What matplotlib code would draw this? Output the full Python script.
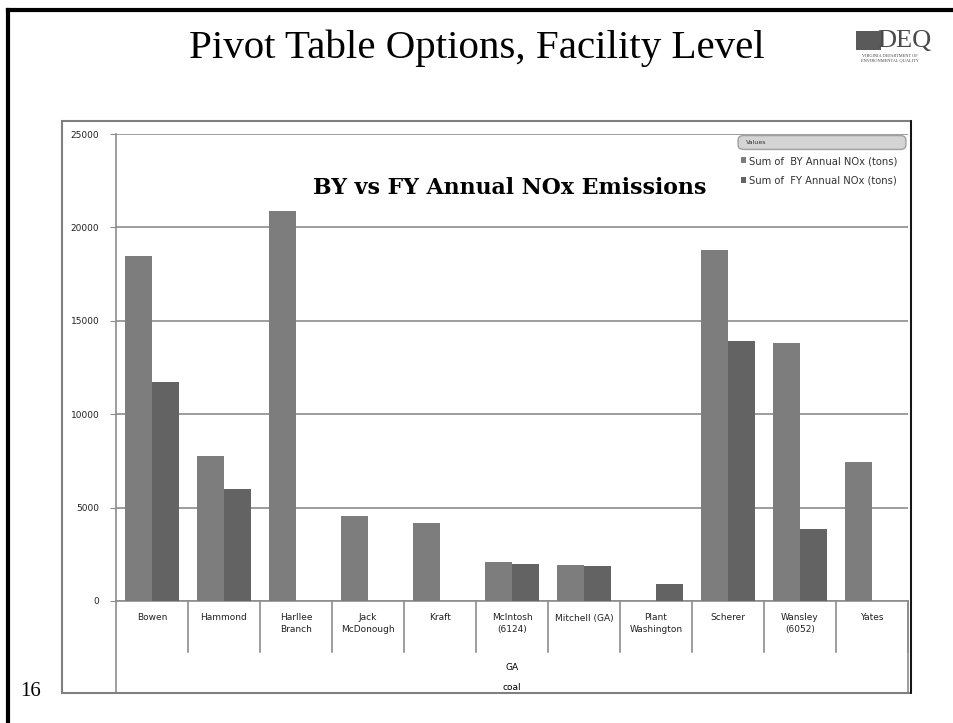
import numpy as np
import matplotlib
matplotlib.use('Agg')
import matplotlib.pyplot as plt
from matplotlib.lines import Line2D
from matplotlib.patches import Rectangle, FancyBboxPatch
import matplotlib.transforms as mtrans

# data
plants = ['Bowen', 'Hammond', 'Harllee\nBranch', 'Jack\nMcDonough', 'Kraft',
          'McIntosh\n(6124)', 'Mitchell (GA)', 'Plant\nWashington', 'Scherer',
          'Wansley\n(6052)', 'Yates']
by_nox = [18450, 7750, 20900, 4550, 4200, 2100, 1950, 0, 18800, 13800, 7450]
fy_nox = [11750, 6000, 0, 0, 0, 1980, 1880, 900, 13900, 3850, 0]
state = 'GA'
fuel = 'coal'

W, H = 954, 723

def fx(px):
    return px / W

def fy(py):
    return 1 - py / H

fig = plt.figure(figsize=(W / 100, H / 100), dpi=100)

# slide frame (left and top edges)
fig.add_artist(Line2D([fx(8.5), fx(8.5)], [fy(10), 0], color='black', lw=3))
fig.add_artist(Line2D([fx(8.5), 1], [fy(10), fy(10)], color='black', lw=3))

fig.text(fx(477), fy(48), 'Pivot Table Options, Facility Level',
         family='Liberation Serif', fontsize=29.5, ha='center', va='center')
fig.text(fx(20), fy(692), '16', family='Liberation Serif', fontsize=15,
         ha='left', va='center')

# logo stand-in
fig.add_artist(Rectangle((fx(856), fy(50)), fx(25), fy(31) - fy(50),
                         facecolor='#5a5a5a', edgecolor='none'))
fig.text(fx(904), fy(41), 'DEQ', family='Liberation Serif', fontsize=19,
         color='#4a4a4a', ha='center', va='center')
fig.text(fx(890), fy(58), 'VIRGINIA DEPARTMENT OF\nENVIRONMENTAL QUALITY',
         family='Liberation Serif', fontsize=3.2, color='#444444',
         ha='center', va='center', linespacing=1.0)

# chart box
fig.add_artist(Rectangle((fx(62), fy(693)), fx(911) - fx(62), fy(121) - fy(693),
                         facecolor='none', edgecolor='#7f7f7f', lw=1.5))
fig.add_artist(Line2D([fx(911), fx(911)], [fy(693), fy(121)], color='black', lw=1.2))

left, right, top, bottom = 116, 908, 134, 601
ax = fig.add_axes([fx(left), fy(bottom), fx(right) - fx(left), fy(top) - fy(bottom)])

x = np.arange(len(plants))
bw = 0.37
ax.bar(x - bw / 2, by_nox, bw, color='#7d7d7d', label='Sum of  BY Annual NOx (tons)', zorder=3)
ax.bar(x + bw / 2, fy_nox, bw, color='#636363', label='Sum of  FY Annual NOx (tons)', zorder=3)

ax.set_xlim(-0.5, len(plants) - 0.5)
ax.set_ylim(0, 25000)
ax.set_yticks(np.arange(0, 25001, 5000))
ax.set_yticklabels([str(v) for v in range(0, 25001, 5000)], fontsize=6.5, color='#222222')
ax.yaxis.grid(True, color='#8c8c8c', lw=1.2, zorder=0)
ax.tick_params(axis='y', length=4, color='#8c8c8c', pad=8)
ax.tick_params(axis='x', length=0, pad=9)
ax.set_xticks(x)
ax.set_xticklabels(plants, fontsize=6.5, color='#222222', linespacing=1.4, va='top')
for s in ['top', 'right', 'bottom']:
    ax.spines[s].set_visible(False)
ax.spines['left'].set_color('#8c8c8c')
ax.spines['left'].set_linewidth(1.2)

# category table below the axis
trans = mtrans.blended_transform_factory(ax.transData, ax.transAxes)
ph = bottom - top
ax.plot([-0.5, len(plants) - 0.5], [0, 0], transform=trans, color='#8c8c8c',
        lw=1.2, clip_on=False)
for k in range(len(plants)):
    ax.plot([k + 0.5, k + 0.5], [0, -51 / ph], transform=trans, color='#8c8c8c',
            lw=1.2, clip_on=False)
ax.plot([-0.5, -0.5], [0, -92 / ph], transform=trans, color='#8c8c8c', lw=1.2, clip_on=False)
ax.plot([len(plants) - 0.5] * 2, [0, -92 / ph], transform=trans, color='#8c8c8c',
        lw=1.2, clip_on=False)
mid = (len(plants) - 1) / 2
ax.text(mid, -66 / ph, state, transform=trans, fontsize=6.5, ha='center', va='center')
ax.text(mid, -87 / ph, fuel, transform=trans, fontsize=6.5, ha='center', va='center')

ax.text((510 - left) / (right - left), 0.885, 'BY vs FY Annual NOx Emissions',
        transform=ax.transAxes, family='DejaVu Serif', fontweight='bold',
        fontsize=15.8, ha='center', va='center')

# legend with "Values" header
fig.add_artist(FancyBboxPatch((fx(740), fy(148)), fx(904) - fx(740), fy(137) - fy(148),
                              boxstyle='round,pad=0.002,rounding_size=0.006',
                              facecolor='#d4d4d4', edgecolor='#a0a0a0', lw=1))
fig.text(fx(746), fy(143), 'Values', fontsize=4.5, color='#333333', va='center')
leg = ax.legend(loc='upper left', bbox_to_anchor=(fx(734), fy(149)),
                bbox_transform=fig.transFigure, frameon=False, fontsize=7.2,
                handlelength=0.55, handleheight=0.55, handletextpad=0.3,
                labelspacing=0.95, borderpad=0.2, labelcolor='#333333')

fig.savefig('out.png', dpi=100)
